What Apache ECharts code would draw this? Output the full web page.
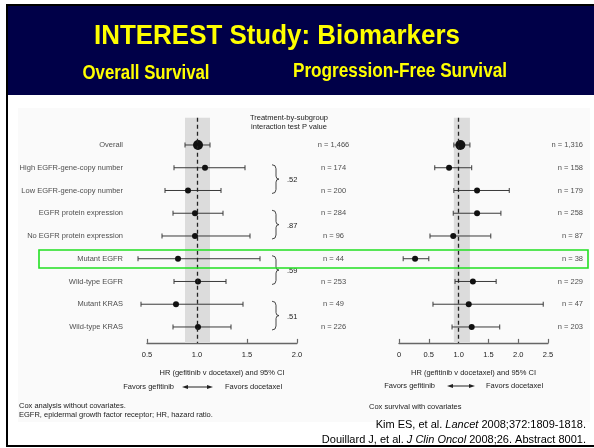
<!DOCTYPE html>
<html>
<head>
<meta charset="utf-8">
<script src="https://cdn.jsdelivr.net/npm/echarts@6/dist/echarts.min.js"></script>
<style>
  html, body { margin: 0; padding: 0; background: #fff; }
  #chart { width: 594px; height: 448px; }
</style>
</head>
<body>
<div id="chart"></div>
<script>
// subgroups, top to bottom
var rows = ['Overall', 'High EGFR-gene-copy number', 'Low EGFR-gene-copy number',
  'EGFR protein expression', 'No EGFR protein expression', 'Mutant EGFR',
  'Wild-type EGFR', 'Mutant KRAS', 'Wild-type KRAS'];

// overall survival: HR and 95% CI
var osHR   = [1.01, 1.08, 0.91, 0.98, 0.98, 0.81, 1.01, 0.79, 1.01];
var osLow  = [0.88, 0.77, 0.68, 0.76, 0.65, 0.41, 0.77, 0.44, 0.76];
var osHigh = [1.13, 1.48, 1.24, 1.26, 1.53, 1.63, 1.29, 1.46, 1.34];
var osN    = ['1,466', '174', '200', '284', '96', '44', '253', '49', '226'];

// progression-free survival
var pfsHR   = [1.03, 0.84, 1.31, 1.31, 0.91, 0.27, 1.24, 1.17, 1.22];
var pfsLow  = [0.92, 0.60, 0.92, 0.91, 0.52, 0.07, 0.94, 0.57, 0.89];
var pfsHigh = [1.19, 1.22, 1.85, 1.71, 1.54, 0.50, 1.63, 2.42, 1.69];
var pfsN    = ['1,316', '158', '179', '258', '87', '38', '229', '47', '203'];

// interaction test p values, each for a pair of rows
var pPairs  = [[1, 2], [3, 4], [5, 6], [7, 8]];
var pValues = ['.52', '.87', '.59', '.51'];

var osTicks  = [0.5, 1.0, 1.5, 2.0];
var pfsTicks = [0, 0.5, 1.0, 1.5, 2.0, 2.5];

var FONT = 'Liberation Sans';
var INK = '#222';
var SMALL = 7.5;

var chart = echarts.init(document.getElementById('chart'));

function axisX(idx, ticks, fmt) {
  return {
    gridIndex: idx, type: 'value',
    min: ticks[0], max: ticks[ticks.length - 1], interval: 0.5,
    name: 'HR (gefitinib v docetaxel) and 95% CI',
    nameLocation: 'middle', nameGap: 26,
    nameTextStyle: { fontSize: SMALL, color: INK, fontFamily: FONT },
    axisLine: { show: true, onZero: false, lineStyle: { color: '#666', width: 1.4 } },
    axisTick: { show: true, inside: true, length: 4, lineStyle: { color: '#666', width: 1.2 } },
    axisLabel: { fontSize: SMALL, color: INK, margin: 8, fontFamily: FONT, formatter: fmt },
    splitLine: { show: false }
  };
}
function axisY(idx) {
  return {
    gridIndex: idx, type: 'value', inverse: true, min: -1.2, max: 8.7,
    show: false, splitLine: { show: false }
  };
}

function ciSeries(idx, low, high) {
  return {
    type: 'custom', xAxisIndex: idx, yAxisIndex: idx, z: 3, silent: true,
    data: rows.map(function (r, i) { return [low[i], high[i], i]; }),
    encode: { x: [0, 1], y: 2 },
    renderItem: function (params, api) {
      var a = api.coord([api.value(0), api.value(2)]);
      var b = api.coord([api.value(1), api.value(2)]);
      var st = { stroke: '#3a3a3a', lineWidth: 1 };
      return {
        type: 'group', children: [
          { type: 'line', shape: { x1: a[0], y1: a[1], x2: b[0], y2: b[1] }, style: st },
          { type: 'line', shape: { x1: a[0], y1: a[1] - 2.5, x2: a[0], y2: a[1] + 2.5 }, style: st },
          { type: 'line', shape: { x1: b[0], y1: b[1] - 2.5, x2: b[0], y2: b[1] + 2.5 }, style: st }
        ]
      };
    }
  };
}

function pointSeries(idx, hr) {
  return {
    type: 'scatter', xAxisIndex: idx, yAxisIndex: idx, z: 4, silent: true,
    data: hr.map(function (v, i) { return { value: [v, i], symbolSize: i === 0 ? 10 : 6 }; }),
    itemStyle: { color: '#111', opacity: 1 }
  };
}

function nSeries(idx, ticks, n, offset, align, low, high) {
  return {
    type: 'scatter', xAxisIndex: idx, yAxisIndex: idx, z: 1, silent: true,
    symbolSize: 0,
    data: n.map(function (v, i) { return { value: [ticks[ticks.length - 1], i], name: 'n = ' + v }; }),
    label: {
      show: true, position: [offset, 0], align: align, verticalAlign: 'middle',
      formatter: '{b}', fontSize: SMALL, color: INK, fontFamily: FONT
    },
    markArea: {
      silent: true, itemStyle: { color: '#dcdcdc' },
      data: [[{ xAxis: low[0] }, { xAxis: high[0] }]]
    },
    markLine: {
      silent: true, symbol: 'none', label: { show: false },
      lineStyle: { color: '#222', type: [4, 3], width: 1.3 },
      data: [{ xAxis: 1 }]
    }
  };
}

var option = {
  animation: false,
  textStyle: { fontFamily: FONT },
  grid: [
    { left: 147, width: 150, top: 117.7, height: 225.2 },
    { left: 399, width: 149, top: 117.7, height: 225.2 }
  ],
  xAxis: [
    axisX(0, osTicks, function (v) { return v.toFixed(1); }),
    axisX(1, pfsTicks, function (v) { return v === 0 ? '0' : v.toFixed(1); })
  ],
  yAxis: [axisY(0), axisY(1)],
  series: [
    nSeries(0, osTicks, osN, 36.5, 'center', osLow, osHigh),
    nSeries(1, pfsTicks, pfsN, 35, 'right', pfsLow, pfsHigh),
    ciSeries(0, osLow, osHigh),
    ciSeries(1, pfsLow, pfsHigh),
    pointSeries(0, osHR),
    pointSeries(1, pfsHR),
    {
      // subgroup names
      type: 'scatter', xAxisIndex: 0, yAxisIndex: 0, symbolSize: 0, silent: true,
      data: rows.map(function (r, i) { return { value: [osTicks[0], i], name: r }; }),
      label: { show: true, position: 'left', distance: 24, formatter: '{b}', fontSize: SMALL, color: INK, fontFamily: FONT }
    },
    {
      // braces with interaction p values
      type: 'custom', xAxisIndex: 0, yAxisIndex: 0, silent: true,
      data: pPairs.map(function (p, i) { return [p[0], p[1], i]; }),
      encode: { y: [0, 1] },
      renderItem: function (params, api) {
        var a = api.coord([1.75, api.value(0)]);
        var b = api.coord([1.75, api.value(1)]);
        var x0 = a[0], y0 = a[1] - 3, y1 = b[1] + 3, ym = (y0 + y1) / 2;
        var d = 'M' + x0 + ' ' + y0 + ' Q' + (x0 + 4) + ' ' + y0 + ' ' + (x0 + 4) + ' ' + (y0 + 4) +
          ' L' + (x0 + 4) + ' ' + (ym - 3) + ' Q' + (x0 + 4) + ' ' + ym + ' ' + (x0 + 7) + ' ' + ym +
          ' Q' + (x0 + 4) + ' ' + ym + ' ' + (x0 + 4) + ' ' + (ym + 3) +
          ' L' + (x0 + 4) + ' ' + (y1 - 4) + ' Q' + (x0 + 4) + ' ' + y1 + ' ' + x0 + ' ' + y1;
        return {
          type: 'group', children: [
            { type: 'path', shape: { pathData: d }, style: { stroke: '#333', lineWidth: 0.9, fill: null } },
            { type: 'text', style: { text: pValues[api.value(2)], x: x0 + 15, y: ym + 1, fill: INK,
              fontSize: SMALL, fontFamily: FONT, align: 'left', verticalAlign: 'middle',
              textAlign: 'left', textVerticalAlign: 'middle' } }
          ]
        };
      }
    }
  ],
  graphic: []
};

function txt(text, x, y, size, opts) {
  opts = opts || {};
  return {
    type: 'text', x: x, y: y, scaleX: opts.scaleX || 1, z: 10, silent: true,
    style: {
      text: text, fill: opts.color || INK, fontSize: size, fontFamily: FONT,
      fontWeight: opts.bold ? 'bold' : 'normal', rich: opts.rich,
      align: opts.align || 'left', verticalAlign: 'middle',
      textAlign: opts.align || 'left', textVerticalAlign: 'middle',
      lineHeight: opts.lineHeight
    }
  };
}

function favors(x1, ax1, ax2, x2, y) {
  return [
    txt('Favors gefitinib', x1, y, SMALL, { align: 'right' }),
    { type: 'line', silent: true, z: 10, shape: { x1: ax1 + 4, y1: y, x2: ax2 - 4, y2: y }, style: { stroke: '#222', lineWidth: 1 } },
    { type: 'polygon', silent: true, z: 10, shape: { points: [[ax1, y], [ax1 + 6, y - 2], [ax1 + 6, y + 2]] }, style: { fill: '#222' } },
    { type: 'polygon', silent: true, z: 10, shape: { points: [[ax2, y], [ax2 - 6, y - 2], [ax2 - 6, y + 2]] }, style: { fill: '#222' } },
    txt('Favors docetaxel', x2, y, SMALL, { align: 'left' })
  ];
}

var refRich = {
  n: { fontSize: 11, fontFamily: FONT, fill: '#000', color: '#000' },
  i: { fontSize: 11, fontFamily: FONT, fontStyle: 'italic', fill: '#000', color: '#000' }
};

option.graphic = [
  { type: 'rect', silent: true, z: -10, shape: { x: 18, y: 108, width: 572, height: 314 }, style: { fill: '#fafafa' } },
  { type: 'rect', silent: true, z: 0, shape: { x: 7, y: 5, width: 600, height: 441 }, style: { fill: null, stroke: '#000', lineWidth: 2 } },
  { type: 'rect', silent: true, z: 0, shape: { x: 8, y: 6, width: 586, height: 89 }, style: { fill: '#000048' } },
  txt('INTEREST Study: Biomarkers', 277, 37, 27, { bold: true, color: '#ffff00', align: 'center', scaleX: 0.96 }),
  txt('Overall Survival', 146, 73, 20, { bold: true, color: '#ffff00', align: 'center', scaleX: 0.84 }),
  txt('Progression-Free Survival', 400, 71, 20, { bold: true, color: '#ffff00', align: 'center', scaleX: 0.86 }),
  txt('Treatment-by-subgroup\ninteraction test P value', 289, 122.5, SMALL, { align: 'center', lineHeight: 9 }),
  { type: 'rect', silent: true, z: 9, shape: { x: 39, y: 250, width: 549, height: 18 }, style: { fill: null, stroke: '#22e022', lineWidth: 1.6 } },
  txt('Cox analysis without covariates.', 19, 406, SMALL),
  txt('EGFR, epidermal growth factor receptor; HR, hazard ratio.', 19, 415, SMALL),
  txt('Cox survival with covariates', 369, 407, SMALL),
  txt('{n|Kim ES, et al. }{i|Lancet}{n| 2008;372:1809-1818.}', 586, 425, 11, { align: 'right', rich: refRich }),
  txt('{n|Douillard J, et al. }{i|J Clin Oncol}{n| 2008;26. Abstract 8001.}', 586, 440, 11, { align: 'right', rich: refRich })
].concat(favors(174, 182, 213, 225, 387)).concat(favors(435, 447, 475, 486, 386));

chart.setOption(option);
</script>
</body>
</html>
